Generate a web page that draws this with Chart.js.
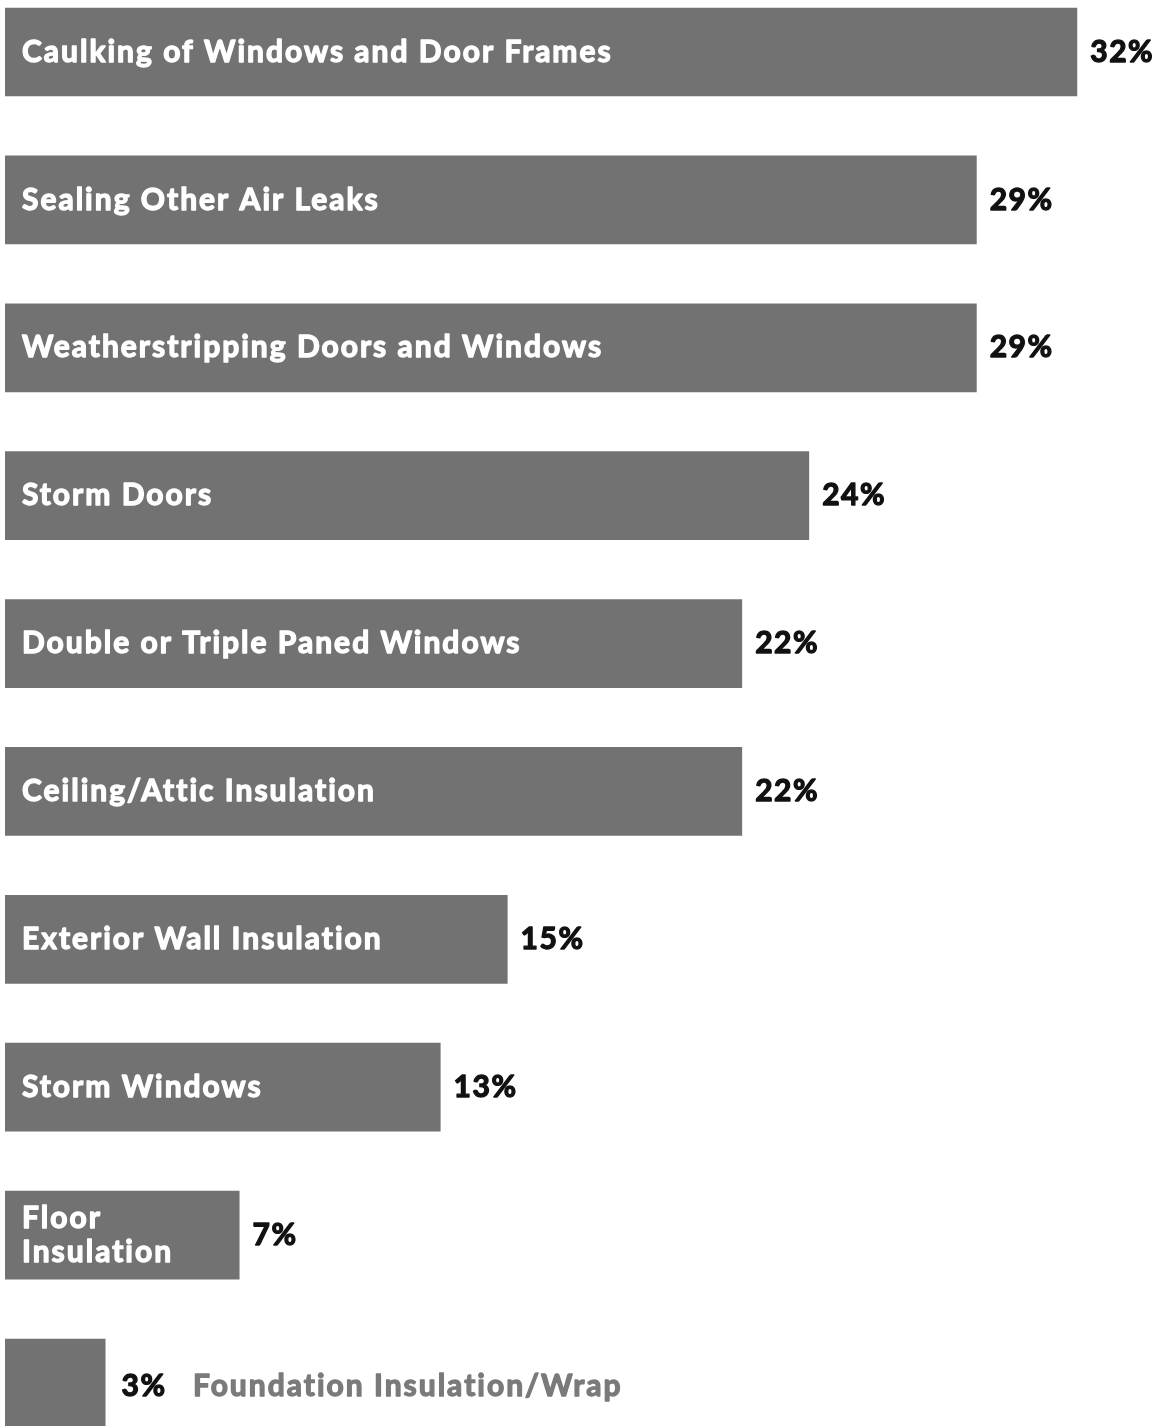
<!DOCTYPE html>
<html>
<head>
<meta charset="utf-8">
<script src="https://cdn.jsdelivr.net/npm/chart.js@4/dist/chart.umd.min.js"></script>
<style>
  html, body { margin: 0; padding: 0; background: #fff; }
  #wrap { width: 1161px; height: 1426px; position: relative; }
</style>
</head>
<body>
<div id="wrap"><canvas id="chart"></canvas></div>
<script>
// Datos
const categories = [
  "Caulking of Windows and Door Frames",
  "Sealing Other Air Leaks",
  "Weatherstripping Doors and Windows",
  "Storm Doors",
  "Double or Triple Paned Windows",
  "Ceiling/Attic Insulation",
  "Exterior Wall Insulation",
  "Storm Windows",
  ["Floor", "Insulation"],
  "Foundation Insulation/Wrap"
];
const percents = [32, 29, 29, 24, 22, 22, 15, 13, 7, 3];
const valueLabels = ["32%", "29%", "29%", "24%", "22%", "22%", "15%", "13%", "7%", "3%"];

const FONT = "Lato, 'Open Sans', 'DejaVu Sans', sans-serif";

// texto con trazo para engrosar
function heavyText(ctx, txt, x, y, color) {
  ctx.fillStyle = color;
  ctx.strokeStyle = color;
  ctx.lineWidth = 1.3;
  ctx.lineJoin = "round";
  ctx.strokeText(txt, x, y);
  ctx.fillText(txt, x, y);
}

// Etiquetas dentro / fuera de las barras
const barLabels = {
  id: "barLabels",
  afterDatasetsDraw(chart) {
    const ctx = chart.ctx;
    const meta = chart.getDatasetMeta(0);
    ctx.save();
    ctx.textBaseline = "middle";
    ctx.textAlign = "left";
    meta.data.forEach((bar, i) => {
      const y = bar.y;
      const last = i === meta.data.length - 1;
      // valor
      ctx.font = "bold 30px " + FONT;
      ctx.letterSpacing = "1.5px";
      const vx = bar.x + (last ? 16 : 13);
      const vy = last ? y + 3 : y;
      heavyText(ctx, valueLabels[i], vx, vy, "#111");
      // nombre
      ctx.font = "bold 30px " + FONT;
      ctx.letterSpacing = "2px";
      if (last) {
        heavyText(ctx, categories[i], 193, vy, "#7a7a7a");
      } else {
        const lines = Array.isArray(categories[i]) ? categories[i] : [categories[i]];
        const lh = 34;
        lines.forEach((ln, k) => {
          heavyText(ctx, ln, bar.base + 17, y - (lines.length - 1) * lh / 2 + k * lh, "#fff");
        });
      }
    });
    ctx.restore();
  }
};

new Chart(document.getElementById("chart"), {
  type: "bar",
  data: {
    labels: categories,
    datasets: [{
      data: percents,
      backgroundColor: "#727272",
      borderWidth: 0,
      barPercentage: 0.6,
      categoryPercentage: 1,
      clip: false
    }]
  },
  options: {
    indexAxis: "y",
    responsive: true,
    maintainAspectRatio: false,
    animation: false,
    layout: { padding: { left: 5, right: 0, top: 52, bottom: 43 } },
    plugins: { legend: { display: false }, tooltip: { enabled: false } },
    scales: {
      x: { min: 0, max: 34.5, display: false },
      y: { display: false, offset: false, grid: { display: false } }
    }
  },
  plugins: [barLabels]
});
</script>
</body>
</html>
